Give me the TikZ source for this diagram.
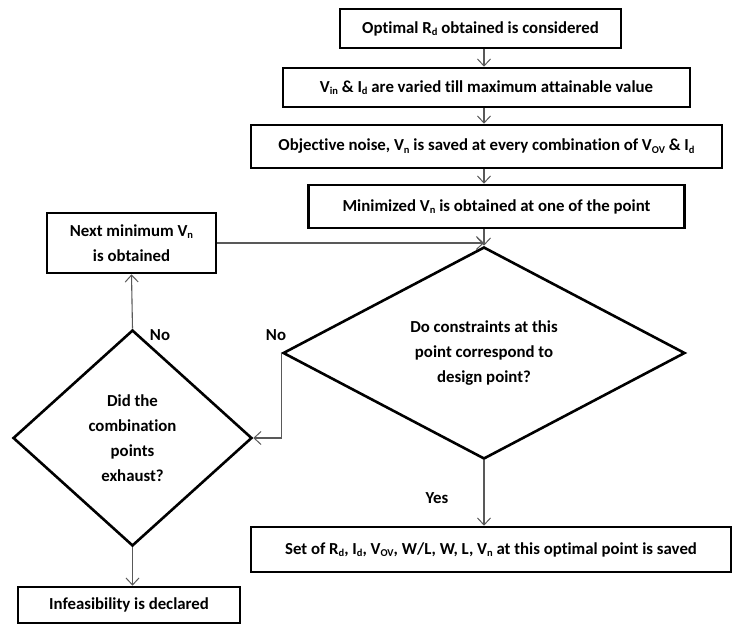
\documentclass[tikz,border=0pt]{standalone}
\usepackage{fontspec}
\setmainfont{Carlito}[Ligatures=NoCommon]
\usetikzlibrary{shapes.geometric,arrows.meta}
\newcommand{\sbs}[1]{\raisebox{-0.3ex}{\fontsize{10.5}{10.5}\selectfont #1}}
\begin{document}
\begin{tikzpicture}[x=1pt,y=-1pt,
  font=\fontsize{16.8}{25}\selectfont\bfseries,
  stepbox/.style={draw,line width=2.6pt,align=center,inner sep=2pt},
  decision/.style={draw,diamond,line width=2.6pt,align=center,inner sep=0pt},
  flow/.style={draw=black!65,line width=1.1pt,-{Straight Barb[length=7pt,width=13pt,line width=1pt]}}]
 \useasboundingbox (0,0) rectangle (734,624);
 % main column
 \node[stepbox,minimum width=281,minimum height=39] (opt) at (480.5,28.5) {Optimal R\sbs{d} obtained is considered};
 \node[stepbox,minimum width=407,minimum height=39] (vary) at (486.5,87.5) {V\sbs{in} \& I\sbs{d} are varied till maximum attainable value};
 \node[stepbox,minimum width=471,minimum height=43] (noise) at (486.5,146.5) {Objective noise, V\sbs{n} is saved at every combination of V\sbs{OV} \& I\sbs{d}};
 \node[stepbox,minimum width=376,minimum height=43] (minim) at (496.5,206.5) {Minimized V\sbs{n} is obtained at one of the point};
 \node[decision,minimum width=402,minimum height=172] (check) at (484,353) {Do constraints at this\\point correspond to\\design point?};
 \node[stepbox,minimum width=480,minimum height=45] (saved) at (491,549.5) {Set of R\sbs{d}, I\sbs{d}, V\sbs{OV}, W/L, W, L, V\sbs{n} at this optimal point is saved};
 % left loop
 \node[stepbox,minimum width=169,minimum height=60] (next) at (131.5,243) {Next minimum V\sbs{n}\\is obtained};
 \node[decision,minimum width=239,minimum height=216] (exhaust) at (132.5,438) {Did the\\combination\\points\\exhaust?};
 \node[stepbox,minimum width=222,minimum height=36] (infeas) at (129,605) {Infeasibility is declared};
 % connectors
 \draw[flow] (check.north |- opt.south) -- (check.north |- vary.north);
 \draw[flow] (check.north |- vary.south) -- (check.north |- noise.north);
 \draw[flow] (check.north |- noise.south) -- (check.north |- minim.north);
 \draw[flow] (check.north |- minim.south) -- (check.north);
 \draw[flow] (next.east) -- (next.east -| check.north);
 \draw[flow] (check.west) |- (exhaust.east);
 \draw[flow] (exhaust.north) -- (next.south);
 \draw[flow] (exhaust.south) -- (exhaust.south |- infeas.north);
 \draw[flow] (check.south) -- (check.south |- saved.north);
 % branch labels
 \node (no1) at (160,335) {No};
 \node (no2) at (276,335) {No};
 \node (yes) at (437,498) {Yes};
\end{tikzpicture}
\end{document}
